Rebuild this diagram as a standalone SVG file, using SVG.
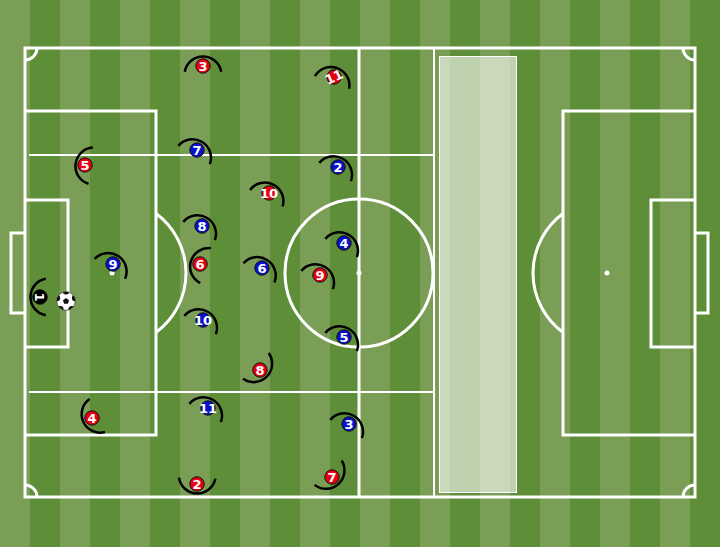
<svg xmlns="http://www.w3.org/2000/svg" xmlns:xlink="http://www.w3.org/1999/xlink" width="720" height="547" viewBox="0 0 720 547">
<style>
.ln{fill:none;stroke:#fff;stroke-width:3}
.thin{fill:none;stroke:#fff;stroke-width:2}
.fov{fill:none;stroke:#000;stroke-width:2.5}
.red{fill:#e60012;stroke:#111;stroke-width:1}
.blue{fill:#0a10c8;stroke:#111;stroke-width:1}
.gk{fill:#000;stroke:#000;stroke-width:1}
.num{font-family:"DejaVu Sans","Liberation Sans",sans-serif;font-weight:bold;font-size:13px;fill:#fff;text-anchor:middle}
</style>
<defs>
<pattern id="stripes" width="60" height="547" patternUnits="userSpaceOnUse">
<rect width="30" height="547" fill="#7a9e56"/>
<rect x="30" width="30" height="547" fill="#5f8e39"/>
</pattern>
<path id="fov" class="fov" d="M-5.79 -18.22 A18.5 18.5 0 0 1 -5.79 18.22"/>
<clipPath id="ballclip"><circle cx="66" cy="301" r="9.3"/></clipPath>
</defs>
<rect width="720" height="547" fill="url(#stripes)"/>
<g id="pitch">
<rect x="439.5" y="56.5" width="77" height="436" fill="#fff" fill-opacity="0.6" stroke="#fff" stroke-width="1"/>
<path class="thin" d="M29 155H434M29 392H434M434 48V497"/>
<rect class="ln" x="25" y="48" width="670" height="449"/>
<path class="ln" d="M359 48V497"/>
<circle class="ln" cx="359" cy="273" r="74"/>
<circle cx="359" cy="273" r="2.5" fill="#fff"/>
<path class="ln" d="M25 111H156V435H25M25 200H68V347H25M25 233H11V313H25M156 213.5A74 74 0 0 1 156 332.5"/>
<circle cx="112" cy="273" r="2.5" fill="#fff"/>
<path class="ln" d="M695 111H563V435H695M695 200H651V347H695M695 233H708V313H695M563 213.5A74 74 0 0 0 563 332.5"/>
<circle cx="607" cy="273" r="2.5" fill="#fff"/>
<path class="ln" stroke-width="2.5" d="M37 48A12 12 0 0 1 25 60M683 48A12 12 0 0 0 695 60M25 485A12 12 0 0 1 37 497M695 485A12 12 0 0 0 683 497"/>
</g>
<g id="connectors"/>
<g id="red-3" transform="translate(203,66)"><use xlink:href="#fov" transform="rotate(-90)"/><circle class="red" r="7.2"/><text class="num" y="4.7">3</text></g>
<g id="red-11" transform="translate(334,77)"><use xlink:href="#fov" transform="rotate(-70)"/><circle class="red" r="7.2"/><text class="num" y="4.7" transform="rotate(-25)">11</text></g>
<g id="red-5" transform="translate(85,165)"><use xlink:href="#fov" transform="rotate(187)"/><circle class="red" r="7.2"/><text class="num" y="4.7">5</text></g>
<g id="red-10" transform="translate(269,193)"><use xlink:href="#fov" transform="rotate(-63)"/><circle class="red" r="7.2"/><text class="num" y="4.7">10</text></g>
<g id="red-6" transform="translate(200,264)"><use xlink:href="#fov" transform="rotate(197)"/><circle class="red" r="7.2"/><text class="num" y="4.7">6</text></g>
<g id="red-9" transform="translate(320,275)"><use xlink:href="#fov" transform="rotate(-60)"/><circle class="red" r="7.2"/><text class="num" y="4.7">9</text></g>
<g id="red-8" transform="translate(260,370)"><use xlink:href="#fov" transform="rotate(45)"/><circle class="red" r="7.2"/><text class="num" y="4.7">8</text></g>
<g id="red-4" transform="translate(92,418)"><use xlink:href="#fov" transform="rotate(155)"/><circle class="red" r="7.2"/><text class="num" y="4.7">4</text></g>
<g id="red-2" transform="translate(197,484)"><use xlink:href="#fov" transform="rotate(92)"/><circle class="red" r="7.2"/><text class="num" y="4.7">2</text></g>
<g id="red-7" transform="translate(332,477)"><use xlink:href="#fov" transform="rotate(48)"/><circle class="red" r="7.2"/><text class="num" y="4.7">7</text></g>
<g id="blue-7" transform="translate(197,150)"><use xlink:href="#fov" transform="rotate(-60)"/><circle class="blue" r="7.2"/><text class="num" y="4.7">7</text></g>
<g id="blue-2" transform="translate(338,167)"><use xlink:href="#fov" transform="rotate(-60)"/><circle class="blue" r="7.2"/><text class="num" y="4.7">2</text></g>
<g id="blue-8" transform="translate(202,226)"><use xlink:href="#fov" transform="rotate(-60)"/><circle class="blue" r="7.2"/><text class="num" y="4.7">8</text></g>
<g id="blue-4" transform="translate(344,243)"><use xlink:href="#fov" transform="rotate(-60)"/><circle class="blue" r="7.2"/><text class="num" y="4.7">4</text></g>
<g id="blue-9" transform="translate(113,264)"><use xlink:href="#fov" transform="rotate(-57)"/><circle class="blue" r="7.2"/><text class="num" y="4.7">9</text></g>
<g id="blue-6" transform="translate(262,268)"><use xlink:href="#fov" transform="rotate(-58)"/><circle class="blue" r="7.2"/><text class="num" y="4.7">6</text></g>
<g id="blue-10" transform="translate(203,320)"><use xlink:href="#fov" transform="rotate(-60)"/><circle class="blue" r="7.2"/><text class="num" y="4.7">10</text></g>
<g id="blue-5" transform="translate(344,337)"><use xlink:href="#fov" transform="rotate(-60)"/><circle class="blue" r="7.2"/><text class="num" y="4.7">5</text></g>
<g id="blue-11" transform="translate(208,408)"><use xlink:href="#fov" transform="rotate(-60)"/><circle class="blue" r="7.2"/><text class="num" y="4.7">11</text></g>
<g id="blue-3" transform="translate(349,424)"><use xlink:href="#fov" transform="rotate(-60)"/><circle class="blue" r="7.2"/><text class="num" y="4.7">3</text></g>
<g id="keeper-1" transform="translate(40,297)"><use xlink:href="#fov" transform="rotate(180)"/><circle class="gk" r="7.2"/><text class="num" y="4.7" transform="rotate(90)">1</text></g>
<g id="ball">
<circle cx="66" cy="301" r="9.3" fill="#fff" stroke="#444" stroke-width="0.8"/>
<g clip-path="url(#ballclip)" fill="#111">
<polygon points="66,298 69,300.3 67.9,303.8 64.1,303.8 63,300.3"/>
<circle cx="66" cy="291.3" r="3.3"/>
<circle cx="75.2" cy="298" r="3.3"/>
<circle cx="71.8" cy="309.2" r="3.3"/>
<circle cx="60.2" cy="309.2" r="3.3"/>
<circle cx="56.8" cy="298" r="3.3"/>
</g>
</g>
</svg>
